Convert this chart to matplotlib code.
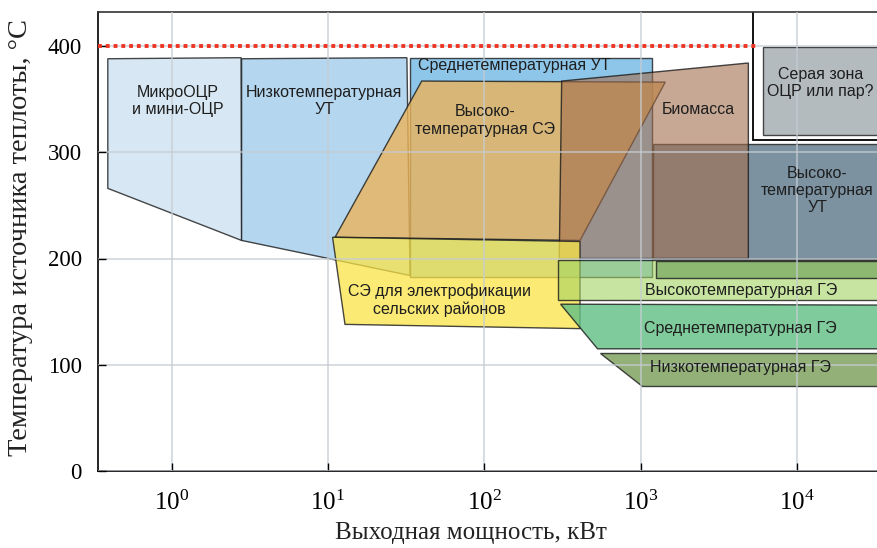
import matplotlib
matplotlib.use("Agg")
import matplotlib.pyplot as plt
import numpy as np
from matplotlib.colors import to_rgba
from matplotlib.patches import Polygon
from matplotlib.ticker import FixedLocator, FixedFormatter, NullLocator

plt.rcParams["mathtext.fontset"] = "custom"
plt.rcParams["mathtext.rm"] = "Liberation Serif"
plt.rcParams["mathtext.it"] = "Liberation Serif"

# region outlines: output power (kW) and heat source temperature (°C)
micro_kw = [0.39, 2.78, 2.80, 0.39]
micro_c = [388, 389, 217, 266]
lowut_kw = [2.80, 32.0, 33.5, 2.80]
lowut_c = [388, 389, 184, 217]
midut_kw = [33.5, 1180, 1180, 33.5]
midut_c = [389, 389, 183, 183]
hise_kw = [11.1, 39.8, 1440, 410]
hise_c = [220, 367, 366, 217]
bio_kw = [313, 4900, 4900, 302]
bio_c = [367, 384, 200, 200]
hiut_kw = [1210, 1e5, 1e5, 1210]
hiut_c = [308, 308, 200, 200]
rural_kw = [10.7, 410, 410, 12.85]
rural_c = [220, 216, 134, 138]
hige_kw = [298, 1e5, 1e5, 298]
hige_c = [199, 199, 161, 161]
band_kw = [1257, 1e5, 1e5, 1257]
band_c = [198, 198, 182, 182]
midge_kw = [308, 1e5, 1e5, 531]
midge_c = [157, 156, 115, 115]
lowge_kw = [551, 1e5, 1e5, 1019]
lowge_c = [111, 111, 80, 80]
grey_kw = [6110, 1e5, 1e5, 6110]
grey_c = [399, 399, 316, 316]
frame_kw = [5230, 1e5, 1e5, 5230]
frame_c = [312, 312, 1000, 1000]

limit_kw = [0.34, 5640]
limit_c = [400, 400]

x_ticks = [1, 10, 100, 1000, 10000]
x_labels = ["$10^{0}$", "$10^{1}$", "$10^{2}$", "$10^{3}$", "$10^{4}$"]
y_ticks = [0, 100, 200, 300, 400]

fig = plt.figure(figsize=(8.78, 5.48), dpi=100)
ax = fig.add_axes([98.5 / 878, 77 / 548, 779.5 / 878, 459 / 548])
ax.set_xscale("log")
ax.set_xlim(0.34, 33100)
ax.set_ylim(0, 432)

EDGE = (0.1, 0.1, 0.1, 0.8)


def region(kw, c, color, alpha=1.0, z=1.0, ec=EDGE, lw=1.0):
    ax.add_patch(Polygon(np.column_stack([kw, c]), closed=True,
                         facecolor=to_rgba(color, alpha), edgecolor=ec,
                         linewidth=lw, zorder=z))


region(micro_kw, micro_c, "#d7e8f4", z=1.0)
region(lowut_kw, lowut_c, "#b5d6ef", z=1.05)
region(midut_kw, midut_c, "#8ec6ea", z=1.1)
region(hise_kw, hise_c, "#eab35a", 0.8, z=1.2)
region(hiut_kw, hiut_c, "#506e82", 0.75, z=1.25)
region(bio_kw, bio_c, "#a36e4d", 0.6, z=1.3)
region(rural_kw, rural_c, "#fae446", 0.75, z=1.35)
region(hige_kw, hige_c, "#a3d261", 0.6, z=1.4)
region(band_kw, band_c, "#8db872", z=1.45)
region(midge_kw, midge_c, "#60bf83", 0.8, z=1.5)
region(lowge_kw, lowge_c, "#92b078", z=1.55)
region(frame_kw, frame_c, "white", z=1.6, ec="black", lw=1.3)
region(grey_kw, grey_c, "#b4bbbe", z=1.65, ec="#444444")

ax.plot(limit_kw, limit_c, color="#ee3524", lw=2.8, ls=(0, (1, 1.0)),
        dash_capstyle="butt", zorder=2.7)

ax.set_axisbelow(False)
ax.grid(True, which="major", color="#c5ccd2", lw=1.2, alpha=0.8)

ax.xaxis.set_major_locator(FixedLocator(x_ticks))
ax.xaxis.set_major_formatter(FixedFormatter(x_labels))
ax.xaxis.set_minor_locator(NullLocator())
ax.set_yticks(y_ticks)
ax.tick_params(direction="in", length=6, width=1, labelsize=16.5,
               top=False, right=False)
ax.tick_params(axis="x", pad=14, labelsize=18)
ax.tick_params(axis="y", pad=12)
for lab in ax.get_yticklabels():
    lab.set_fontfamily("Liberation Serif")
ax.spines["right"].set_visible(False)
for s in ("left", "bottom", "top"):
    ax.spines[s].set_linewidth(1.2)
ax.spines["top"].set_color("#333333")

sans = dict(family="Liberation Sans", fontsize=11.5, color="#1e1e1e",
            ha="center", va="center", zorder=3)
ax.text(1.10, 348, "МикроОЦР\nи мини-ОЦР", **sans)
ax.text(9.48, 348, "Низкотемпературная\nУТ", **sans)
ax.text(156, 382, "Среднетемпературная УТ", **sans)
ax.text(101, 330, "Высоко-\nтемпературная СЭ", **sans)
ax.text(2345, 340, "Биомасса", **sans)
ax.text(14130, 365, "Серая зона\nОЦР или пар?", **sans)
ax.text(13520, 264, "Высоко-\nтемпературная\nУТ", **sans)
ax.text(51.4, 161, "СЭ для электрофикации\nсельских районов", **sans)
ax.text(4380, 170, "Высокотемпературная ГЭ", **sans)
ax.text(4375, 134, "Среднетемпературная ГЭ", **sans)
ax.text(4370, 97, "Низкотемпературная ГЭ", **sans)

serif = dict(family="Liberation Serif", color="#222222")
fig.text(471 / 878, 1 - 533 / 548, "Выходная мощность, кВт",
         ha="center", va="center", fontsize=18, **serif)
fig.text(21 / 878, 1 - 238 / 548, "Температура источника теплоты, °C",
         rotation=90, ha="center", va="center", fontsize=20.5, **serif)

fig.savefig("out.png", dpi=100)
